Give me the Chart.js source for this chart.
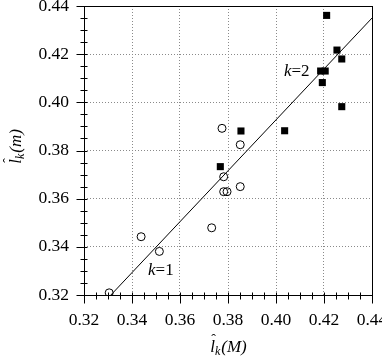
<!DOCTYPE html>
<html>
<head>
<meta charset="utf-8">
<script src="https://cdn.jsdelivr.net/npm/chart.js@4.4.0/dist/chart.umd.min.js"></script>
<style>
body{margin:0;overflow:hidden;background:#fff}
#wrap{width:390px;height:360px}
</style>
</head>
<body>
<div id="wrap"><canvas id="mycanvas" width="390" height="360"></canvas></div>
<script>
// k=1 (open circles)
var k1X=[0.3305,0.3438,0.3514,0.3732,0.3775,0.3782,0.3782,0.3796,0.3851,0.3851];
var k1Y=[0.3209,0.3442,0.3381,0.3479,0.3892,0.3691,0.3629,0.3629,0.3650,0.3824];
// k=2 (filled squares)
var k2X=[0.3768,0.3854,0.4036,0.4186,0.4205,0.4193,0.4211,0.4254,0.4274,0.4274];
var k2Y=[0.3733,0.3881,0.3882,0.4130,0.4130,0.4082,0.4361,0.4217,0.4180,0.3982];
// fitted line
var fitX=[0.3312,0.4400];
var fitY=[0.3200,0.4350];
// axes
var axisMin=0.32, axisMax=0.44, majorStep=0.02, minorStep=0.005;

function pts(xs,ys){
	var out=[];
	for(var i in xs){ out.push({x:xs[i],y:ys[i]}); }
	return out;
}
function tickIndex(v){ return Math.round((v-axisMin)/minorStep); }
var perMajor=Math.round(majorStep/minorStep);

function fmt(v){
	return tickIndex(v)%perMajor===0 ? v.toFixed(2) : '';
}
function gridColor(ctx){
	var v=ctx.tick ? ctx.tick.value : 0;
	var i=tickIndex(v);
	if(i%perMajor!==0 || i===0 || Math.abs(v-axisMax)<1e-9) return 'rgba(0,0,0,0)';
	return '#8a8a8a';
}

var serif='"Liberation Serif", "Times New Roman", serif';

function drawLk(c,cx,cy,arg){
	c.textBaseline='alphabetic';
	c.textAlign='left';
	c.font='italic 17px '+serif;
	var wl=c.measureText('l').width;
	var wa=c.measureText('('+arg+')').width;
	c.font='italic 12px '+serif;
	var wk=c.measureText('k').width;
	var x=cx-(wl+wk+wa)/2;
	c.font='italic 17px '+serif;
	c.fillText('l',x,cy);
	c.font='14px '+serif;
	c.textAlign='center';
	c.fillText('\u02C6',x+wl/2+1,cy-8);
	c.textAlign='left';
	c.font='italic 12px '+serif;
	c.fillText('k',x+wl,cy+3);
	c.font='italic 17px '+serif;
	c.fillText('('+arg+')',x+wl+wk+1,cy);
}
function drawK(c,x,y,n){
	c.textBaseline='middle';
	c.textAlign='left';
	c.font='italic 17px '+serif;
	c.fillText('k',x,y);
	var w=c.measureText('k').width;
	c.font='17px '+serif;
	c.fillText('='+n,x+w,y);
}

var decor={
	id:'decor',
	afterDraw:function(chart){
		var c=chart.ctx, a=chart.chartArea, sx=chart.scales.x, sy=chart.scales.y;
		c.save();
		c.strokeStyle='#000';
		c.lineWidth=1;
		var L=Math.round(a.left)+0.5, R=Math.round(a.right)+0.5, T=Math.round(a.top)+0.5, B=Math.round(a.bottom)+0.5;
		c.strokeRect(L,T,R-L,B-T);
		c.beginPath();
		var n=Math.round((axisMax-axisMin)/minorStep);
		for(var i=0;i<=n;i++){
			var v=axisMin+i*minorStep;
			var out=(i%perMajor===0)?8:4;
			var px=Math.round(sx.getPixelForValue(v))+0.5;
			c.moveTo(px,B-3); c.lineTo(px,B+out);
			var py=Math.round(sy.getPixelForValue(v))+0.5;
			c.moveTo(L-out,py); c.lineTo(L+3,py);
		}
		c.stroke();
		c.fillStyle='#000';
		drawLk(c,(a.left+a.right)/2,352,'M');
		c.save();
		c.translate(21,147);
		c.rotate(-Math.PI/2);
		drawLk(c,0,0,'m');
		c.restore();
		drawK(c,sx.getPixelForValue(0.40333), sy.getPixelForValue(0.4128),'2');
		drawK(c,sx.getPixelForValue(0.34667), sy.getPixelForValue(0.3300),'1');
		c.restore();
	}
};

var tickFont={family:'Liberation Serif',size:17.5};
var ctx=document.getElementById('mycanvas');
var chart=new Chart(ctx,{
	type:'scatter',
	data:{
		datasets:[
			{
				label:'k=2',
				data:pts(k2X,k2Y),
				pointStyle:'rect',
				pointRadius:5,
				backgroundColor:'#000',
				borderColor:'#000',
				borderWidth:0
			},
			{
				label:'fit',
				data:pts(fitX,fitY),
				showLine:true,
				borderColor:'#000',
				borderWidth:1,
				pointRadius:0,
				fill:false
			},
			{
				label:'k=1',
				data:pts(k1X,k1Y),
				pointStyle:'circle',
				pointRadius:4,
				backgroundColor:'rgba(255,255,255,0)',
				borderColor:'#000',
				borderWidth:1
			}
		]
	},
	options:{
		responsive:false,
		animation:false,
		layout:{padding:{top:6,right:18,left:0,bottom:0}},
		plugins:{legend:{display:false},tooltip:{enabled:false}},
		scales:{
			x:{
				type:'linear',min:axisMin,max:axisMax,
				afterFit:function(s){ s.height=65; s.paddingLeft=0; s.paddingRight=0; },
				ticks:{stepSize:minorStep,padding:15,color:'#000',font:tickFont,maxRotation:0,autoSkip:false,callback:fmt},
				grid:{drawTicks:false,color:gridColor,lineWidth:1},
				border:{display:false,dash:[1,2]}
			},
			y:{
				type:'linear',min:axisMin,max:axisMax,
				afterFit:function(s){ s.width=84; s.paddingTop=0; s.paddingBottom=0; },
				ticks:{stepSize:minorStep,padding:15,color:'#000',font:tickFont,autoSkip:false,callback:fmt},
				grid:{drawTicks:false,color:gridColor,lineWidth:1},
				border:{display:false,dash:[1,2]}
			}
		}
	},
	plugins:[decor]
});
</script>
</body>
</html>
